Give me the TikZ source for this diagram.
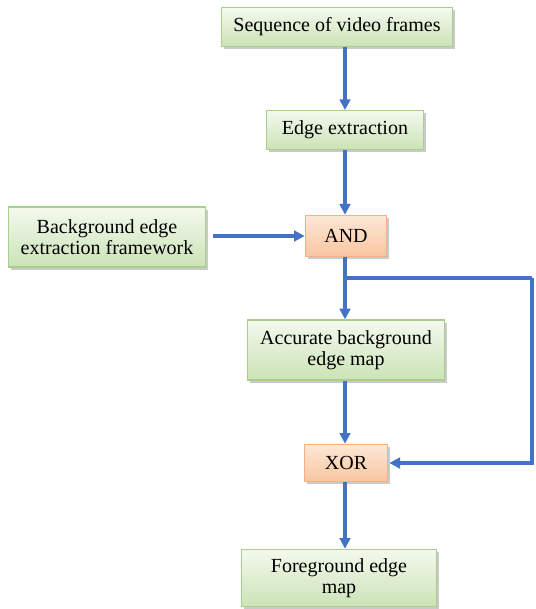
\documentclass[tikz,border=0pt]{standalone}
\usepackage{fontspec}
\setmainfont{Liberation Serif}
\usepackage{tikz}
\usetikzlibrary{arrows.meta,shadows}

\definecolor{boxgreen}{HTML}{A9CF8A}
\definecolor{greentop}{HTML}{F4F9EF}
\definecolor{greenbot}{HTML}{CBE3B6}
\definecolor{boxorange}{HTML}{F4B183}
\definecolor{orangetop}{HTML}{FDE7D6}
\definecolor{orangebot}{HTML}{F9C6A0}
\definecolor{flowblue}{HTML}{4472C4}

\tikzset{
  stage/.style={draw=boxgreen,line width=1pt,top color=greentop,bottom color=greenbot,
    drop shadow={shadow xshift=2pt,shadow yshift=-2pt,fill=black!35,opacity=0.6},
    align=center,inner sep=0pt,font=\fontsize{15}{16}\selectfont},
  gate/.style={draw=boxorange,line width=1pt,top color=orangetop,bottom color=orangebot,
    drop shadow={shadow xshift=2pt,shadow yshift=-2pt,fill=black!35,opacity=0.6},
    align=center,inner sep=0pt,font=\fontsize{15}{16}\selectfont},
  flow/.style={draw=flowblue,line width=2.3pt,-{Triangle[length=8pt,width=8pt]}},
  link/.style={draw=flowblue,line width=2.3pt}
}

\begin{document}
\begin{tikzpicture}[x=0.75pt,y=-0.75pt]
\useasboundingbox (0,0) rectangle (535,609);
\node[stage,minimum width=173pt,minimum height=29pt] (seq) at (337,27) {Sequence of video frames};
\node[stage,minimum width=118pt,minimum height=29pt] (edge) at (345,130) {Edge extraction};
\node[stage,minimum width=148pt,minimum height=45pt] (bg) at (107,237) {Background edge\\extraction framework};
\node[gate,minimum width=61pt,minimum height=31pt] (and) at (346,236) {AND};
\node[stage,minimum width=148pt,minimum height=45pt] (acc) at (346,350) {Accurate background\\edge map};
\node[gate,minimum width=62pt,minimum height=28pt] (xor) at (346,463) {XOR};
\node[stage,minimum width=146pt,minimum height=43pt] (fg) at (339,578) {Foreground edge\\map};
\coordinate (split) at (345,278);
\coordinate (corner) at (532,278);
% main chain
\draw[flow] (seq.south -| split) -- (edge.north -| split);
\draw[flow] (edge.south -| split) -- (and.north -| split);
\draw[flow] ([xshift=5pt]bg.east |- and.west) -- (and.west);
\draw[flow] (and.south -| split) -- (acc.north -| split);
\draw[flow] (acc.south -| split) -- (xor.north -| split);
\draw[flow] (xor.south -| split) -- (fg.north -| split);
% feedback to XOR
\draw[link] (split) -- (corner);
\draw[flow] (corner) |- ([xshift=1pt]xor.east);
\end{tikzpicture}
\end{document}
